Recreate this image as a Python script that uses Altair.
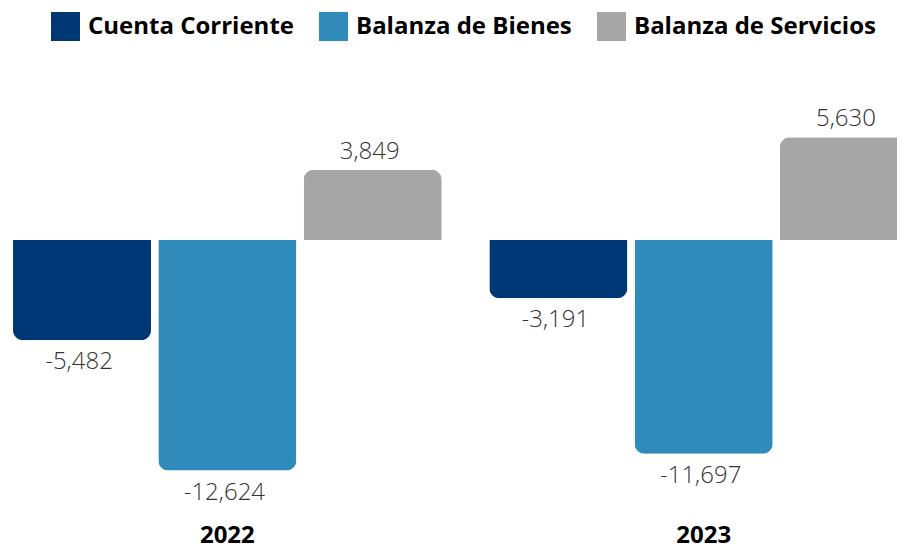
import altair as alt
import pandas as pd

years = ["2022", "2023"]
series = ["Cuenta Corriente", "Balanza de Bienes", "Balanza de Servicios"]
cuenta_corriente = [-5482, -3191]
balanza_bienes = [-12624, -11697]
balanza_servicios = [3849, 5630]
colors = ["#003876", "#2E8BBA", "#A6A6A6"]

rows = []
for i, yr in enumerate(years):
    for s, vals in zip(series, [cuenta_corriente, balanza_bienes, balanza_servicios]):
        v = vals[i]
        rows.append({"year": yr, "series": s, "value": v, "label": f"{v:,}"})
df = pd.DataFrame(rows)

x = alt.X(
    "year:N",
    scale=alt.Scale(domain=years, range=[0, 905], paddingInner=0.1, paddingOuter=0),
    axis=alt.Axis(title=None, labelAngle=0, domain=False, ticks=False,
                  labelFontSize=24, labelFontWeight="bold", labelColor="#000000",
                  labelFont="Open Sans", labelPadding=9),
)
xo = alt.XOffset("series:N", scale=alt.Scale(domain=series, paddingInner=0.05, paddingOuter=0))
y = alt.Y("value:Q", scale=alt.Scale(domain=[-15000, 8000], nice=False, zero=True), axis=None)
color = alt.Color(
    "series:N",
    scale=alt.Scale(domain=series, range=colors),
    legend=alt.Legend(
        title=None, orient="none", legendX=38, legendY=-82, direction="horizontal",
        symbolType="square", symbolSize=841, symbolStrokeWidth=0, symbolOpacity=1,
        labelFontSize=24, labelFontWeight="bold", labelFont="Open Sans",
        labelColor="#000000", labelOffset=8, columnPadding=25, labelLimit=400,
    ),
)

base = alt.Chart(df)

neg = base.transform_filter("datum.value < 0").mark_bar(
    cornerRadiusBottomLeft=10, cornerRadiusBottomRight=10
).encode(x=x, xOffset=xo, y=y, color=color)

pos = base.transform_filter("datum.value >= 0").mark_bar(
    cornerRadiusTopLeft=10, cornerRadiusTopRight=10
).encode(x=x, xOffset=xo, y=y, color=color)

label_font = "Open Sans Light, Open Sans"

neg_txt = base.transform_filter("datum.value < 0").mark_text(
    font=label_font, fontWeight=300, fontSize=24, color="#333333",
    baseline="middle", dy=22, dx=-3,
).encode(x=x, xOffset=xo, y=y, text="label:N")

pos_txt = base.transform_filter("datum.value >= 0").mark_text(
    font=label_font, fontWeight=300, fontSize=24, color="#333333",
    baseline="middle", dy=-18, dx=-3,
).encode(x=x, xOffset=xo, y=y, text="label:N")

chart = alt.layer(neg, pos, neg_txt, pos_txt).properties(
    width=884, height=420,
    autosize=alt.AutoSizeParams(type="none"),
    padding={"left": 5, "top": 86, "right": 0, "bottom": 40},
).configure_view(stroke=None)

chart.save("out.html", embed_options={"renderer": "svg", "actions": False})
